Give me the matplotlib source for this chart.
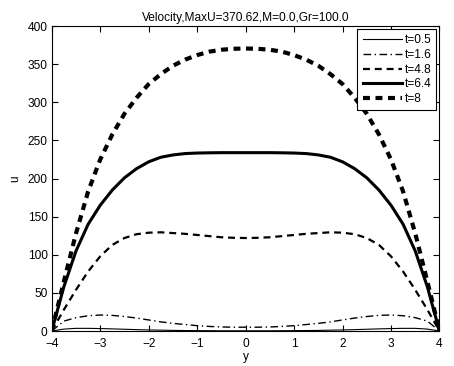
import numpy as np
import matplotlib
matplotlib.use('Agg')
import matplotlib.pyplot as plt

plt.rcParams['font.family'] = ['Liberation Sans', 'DejaVu Sans']
plt.rcParams['lines.scale_dashes'] = False

FS = 8.6

# channel coordinate
y = [-4.0, -3.75, -3.5, -3.25, -3.0, -2.75, -2.5, -2.25, -2.0, -1.75, -1.5, -1.25, -1.0,
     -0.75, -0.5, -0.25, 0.0, 0.25, 0.5, 0.75, 1.0, 1.25, 1.5, 1.75, 2.0, 2.25, 2.5,
     2.75, 3.0, 3.25, 3.5, 3.75, 4.0]

# velocity profiles at each time
u_05 = [0.0, 2.5, 3.5, 3.5, 3.2, 2.8, 2.3, 1.8, 1.4, 1.1, 0.8, 0.6, 0.5,
        0.4, 0.3, 0.3, 0.3, 0.3, 0.3, 0.4, 0.5, 0.6, 0.8, 1.1, 1.4, 1.8, 2.3,
        2.8, 3.2, 3.5, 3.5, 2.5, 0.0]
u_16 = [0.0, 13.0, 17.5, 20.0, 21.0, 20.5, 19.0, 17.0, 14.5, 12.0, 10.0, 8.5, 7.0,
        6.0, 5.3, 5.0, 5.0, 5.0, 5.3, 6.0, 7.0, 8.5, 10.0, 12.0, 14.5, 17.0, 19.0,
        20.5, 21.0, 20.0, 17.5, 13.0, 0.0]
u_48 = [0.0, 28.0, 54.0, 78.0, 98.0, 113.0, 122.0, 127.0, 129.0, 129.5, 128.5, 127.5, 126.0,
        124.5, 123.0, 122.3, 122.0, 122.3, 123.0, 124.5, 126.0, 127.5, 128.5, 129.5, 129.0, 127.0, 122.0,
        113.0, 98.0, 78.0, 54.0, 28.0, 0.0]
u_64 = [0.0, 58.0, 105.0, 140.0, 165.0, 185.0, 201.0, 213.0, 222.0, 228.0, 231.0, 232.8, 233.5,
        233.8, 234.0, 234.0, 234.0, 234.0, 234.0, 233.8, 233.5, 232.8, 231.0, 228.0, 222.0, 213.0, 201.0,
        185.0, 165.0, 140.0, 105.0, 58.0, 0.0]
u_8 = [0.0, 65.0, 128.0, 183.0, 225.0, 258.0, 285.0, 306.0, 324.0, 337.0, 348.0, 356.0, 362.0,
       366.5, 369.0, 370.3, 370.62, 370.3, 369.0, 366.5, 362.0, 356.0, 348.0, 337.0, 324.0, 306.0, 285.0,
       258.0, 225.0, 183.0, 128.0, 65.0, 0.0]

fig = plt.figure(figsize=(4.54, 3.66), dpi=100)
ax = fig.add_axes([0.114, 0.0956, 0.854, 0.833])

ax.plot(y, u_05, color='k', lw=0.8, ls='-', label='t=0.5')
ax.plot(y, u_16, color='k', lw=1.0, ls=(0, (5.5, 2.5, 1, 2.5)), label='t=1.6')
ax.plot(y, u_48, color='k', lw=1.6, ls=(0, (5, 3.5)), label='t=4.8')
ax.plot(y, u_64, color='k', lw=2.2, ls='-', label='t=6.4')
ax.plot(y, u_8, color='k', lw=3.0, ls=(0, (5, 4)), label='t=8')

ax.set_xlim(-4, 4)
ax.set_ylim(0, 400)
ax.set_xticks(np.arange(-4, 5, 1))
ax.set_yticks(np.arange(0, 401, 50))
ax.set_xticklabels(['\u22124', '\u22123', '\u22122', '\u22121', '0', '1', '2', '3', '4'])
ax.tick_params(direction='in', top=True, right=True, length=4, labelsize=FS)
ax.tick_params(axis='x', pad=5)
ax.tick_params(axis='y', pad=3)
for s in ax.spines.values():
    s.set_linewidth(0.8)

ax.set_xlabel('y', fontsize=FS, labelpad=1)
ax.set_ylabel('u', fontsize=FS, labelpad=5)
ax.set_title('Velocity,MaxU=370.62,M=0.0,Gr=100.0', fontsize=FS, pad=4)

leg = ax.legend(loc='upper right', fontsize=FS, handlelength=3.3, handletextpad=0.2,
                labelspacing=0.22, borderpad=0.45, fancybox=False, framealpha=1,
                borderaxespad=0.25)
leg.get_frame().set_edgecolor('k')
leg.get_frame().set_linewidth(0.8)

fig.savefig('out.png', dpi=100)
